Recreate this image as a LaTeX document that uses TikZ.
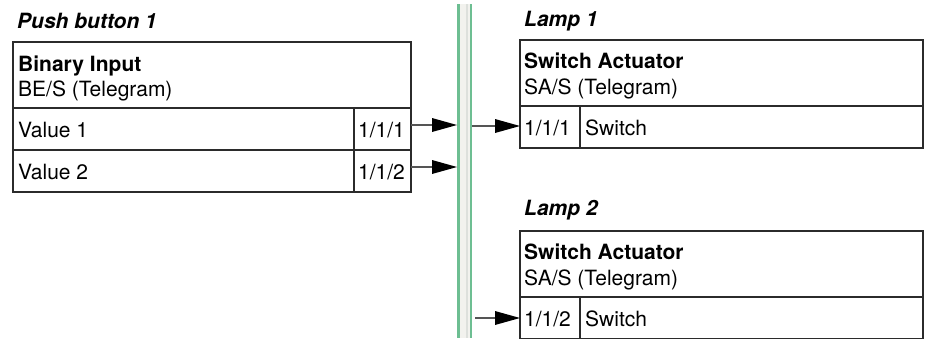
\documentclass[tikz,border=0pt]{standalone}
\usepackage{fontspec}
\setmainfont{TeX Gyre Heros}
\usetikzlibrary{arrows.meta}
\definecolor{boxline}{HTML}{2B2B2B}
\definecolor{busgreen}{HTML}{6DBE92}
\definecolor{busfill}{HTML}{F2F2EE}
\definecolor{busmid}{HTML}{DDE0DC}
\definecolor{wire}{HTML}{555555}
\begin{document}
\begin{tikzpicture}[x=1pt,y=-1pt,
  cell/.style={draw=boxline, line width=2.3pt, anchor=north west, inner sep=0pt, outer sep=0pt,
               minimum width=#1},
  hdr/.style={cell=#1, minimum height=66pt},
  row/.style={cell=#1, minimum height=42pt},
  txt/.style={anchor=base west, inner sep=0pt, font=\fontsize{21}{25}\selectfont},
  ttl/.style={txt, font=\fontsize{21}{25}\selectfont\bfseries\itshape},
  btxt/.style={txt, font=\fontsize{21}{25}\selectfont\bfseries},
  arr/.style={draw=wire, line width=1.1pt, -{Triangle[length=25pt,width=14pt,fill=black,line width=0pt]}}]
\useasboundingbox (0,0) rectangle (927,338);

% bus
\node[anchor=north west, fill=busfill, minimum width=15pt, minimum height=334pt, inner sep=0pt, outer sep=0pt] (bus) at (457,4) {};
\fill[busmid] ([xshift=9pt]bus.north west) rectangle ([xshift=11pt]bus.south west);
\draw[busgreen, line width=2.5pt] ([xshift=1.25pt]bus.north west) -- ([xshift=1.25pt]bus.south west);
\draw[busgreen, line width=2.5pt] ([xshift=-1.25pt]bus.north east) -- ([xshift=-1.25pt]bus.south east);

% Push button 1
\node[ttl] (t1) at (17,28) {Push button 1};
\node[hdr=398pt] (bi) at (13,42) {};
\node[row=341pt] (v1) at (13,108) {};
\node[row=57pt] (p1) at (354,108) {};
\node[row=341pt] (v2) at (13,150) {};
\node[row=57pt] (p2) at (354,150) {};
\node[btxt] at (18,71) {Binary Input};
\node[txt] at (18,96) {BE/S (Telegram)};
\node[txt] at (18,137) {Value 1};
\node[txt] at (358,137) {1/1/1};
\node[txt] at (18,179) {Value 2};
\node[txt] at (358,179) {1/1/2};

% Lamp 1
\node[ttl] (t2) at (524,26) {Lamp 1};
\node[hdr=403pt] (sa1) at (520,40) {};
\node[row=60pt] (q1) at (520,106) {};
\node[row=343pt] (s1) at (580,106) {};
\node[btxt] at (524,68) {Switch Actuator};
\node[txt] at (524,94) {SA/S (Telegram)};
\node[txt] at (524,135) {1/1/1};
\node[txt] at (585,135) {Switch};

% Lamp 2
\node[ttl] (t3) at (524,215) {Lamp 2};
\node[hdr=403pt] (sa2) at (520,231) {};
\node[row=60pt] (q2) at (520,297) {};
\node[row=343pt] (s2) at (580,297) {};
\node[btxt] at (524,259) {Switch Actuator};
\node[txt] at (524,285) {SA/S (Telegram)};
\node[txt] at (524,326) {1/1/2};
\node[txt] at (585,326) {Switch};

% connectors
\coordinate (c1) at ([yshift=4pt]p1.east);
\coordinate (c2) at ([yshift=4pt]p2.east);
\coordinate (c3) at ([yshift=1pt]q1.west);
\coordinate (c4) at ([xshift=3pt]bus.east |- q2.west);
\draw[arr] (c1) -- (c1 -| bus.west);
\draw[arr] (c2) -- (c2 -| bus.west);
\draw[arr] (c3 -| bus.east) -- (c3);
\draw[arr] (c4) -- (q2.west);
\end{tikzpicture}
\end{document}
